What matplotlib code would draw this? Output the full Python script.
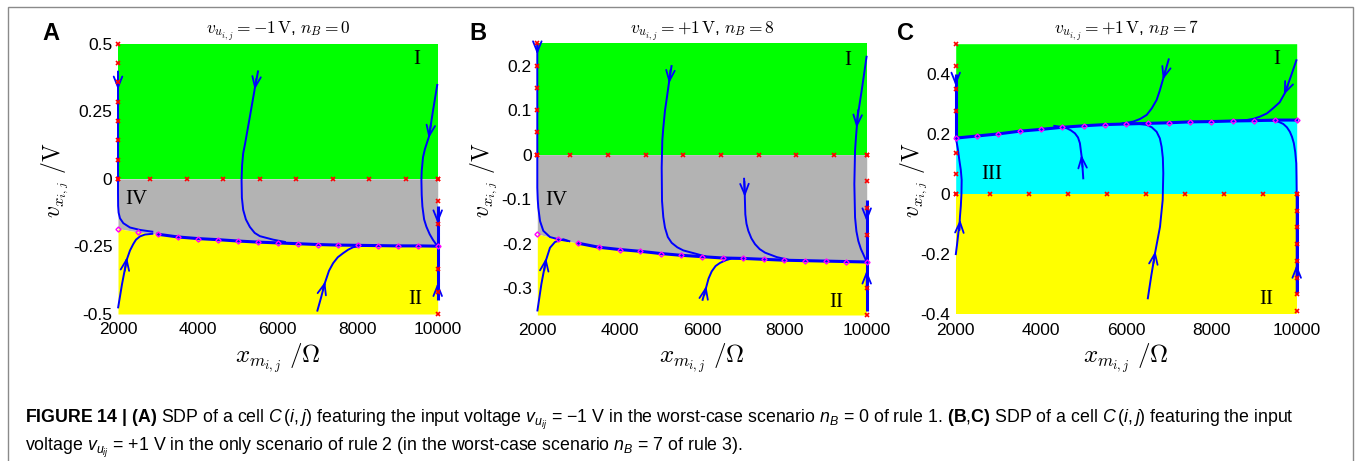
import matplotlib
matplotlib.use('Agg')
import matplotlib.pyplot as plt
from matplotlib.patches import Rectangle

plt.rcParams['font.family'] = ['Liberation Sans', 'DejaVu Sans']
plt.rcParams['mathtext.fontset'] = 'custom'
plt.rcParams['mathtext.rm'] = 'Liberation Sans'
plt.rcParams['mathtext.it'] = 'Liberation Sans:italic'
plt.rcParams['mathtext.bf'] = 'Liberation Sans:bold'

# ---------------- data ----------------
grid_x = [2000, 2500, 3000, 3500, 4000, 4500, 5000, 5500, 6000, 6500, 7000,
          7500, 8000, 8500, 9000, 9500, 10000]
zero_marks_x = [2000, 2800, 3715, 4630, 5545, 6460, 7375, 8290, 9205, 10000]

# Panel A
A_title = r"$v_{u_{i,j}} = -1\,\mathrm{V}$, $n_B = 0$"
A_ylim = [-0.5, 0.5]
A_yticks = [-0.5, -0.25, 0, 0.25, 0.5]
A_yticklabels = ['-0.5', '-0.25', '0', '0.25', '0.5']
A_bnd_y = [-0.184, -0.197, -0.205, -0.215, -0.221, -0.225, -0.230, -0.234, -0.237,
           -0.240, -0.243, -0.245, -0.246, -0.247, -0.248, -0.248, -0.249]
A_left_marks = [0.5, 0.429, 0.357, 0.286, 0.214, 0.143, 0.071, 0.0]
A_right_marks = [0.0, -0.083, -0.167, -0.333, -0.417, -0.5]
A_traj = [
    ([2000, 2000, 2000, 2003, 2015, 2050, 2133, 2300, 2550, 2883],
     [0.40, 0.10, -0.05, -0.10, -0.125, -0.146, -0.164, -0.180, -0.189, -0.196]),
    ([5508, 5425, 5300, 5180, 5133, 5105, 5092, 5100, 5133, 5200, 5300, 5420, 5550, 5883, 6200],
     [0.401, 0.336, 0.23, 0.13, 0.095, 0.05, -0.004, -0.07, -0.115, -0.150, -0.178, -0.200, -0.212, -0.225, -0.234]),
    ([9992, 9880, 9783, 9680, 9633, 9600, 9592, 9600, 9617, 9660, 9717, 9800, 9883, 9950, 10000],
     [0.351, 0.25, 0.157, 0.11, 0.08, 0.03, -0.004, -0.06, -0.102, -0.15, -0.177, -0.205, -0.226, -0.240, -0.248]),
    ([2000, 2100, 2217, 2300, 2383, 2450, 2550, 2675, 2883],
     [-0.479, -0.39, -0.30, -0.265, -0.241, -0.225, -0.213, -0.206, -0.203]),
    ([6983, 7080, 7175, 7280, 7383, 7500, 7633, 7760, 7883, 8050, 8217, 8500],
     [-0.491, -0.44, -0.386, -0.34, -0.312, -0.29, -0.275, -0.262, -0.253, -0.249, -0.247, -0.247]),
]
A_thick = [([10000, 10000], [-0.10, -0.248]), ([10000, 10000], [-0.448, -0.248])]
A_thick_from = 2
A_arrows = [(2000, 0.38, 2000, 0.33), (5460, 0.37, 5420, 0.33), (9830, 0.20, 9775, 0.15),
            (10000, -0.13, 10000, -0.165), (10000, -0.42, 10000, -0.385),
            (2170, -0.34, 2225, -0.29), (7130, -0.41, 7185, -0.38)]
A_labels = [('I', 9467, 0.441), ('IV', 2467, -0.078), ('II', 9450, -0.448)]

# Panel B
B_title = r"$v_{u_{i,j}} = +1\,\mathrm{V}$, $n_B = 8$"
B_ylim = [-0.36, 0.25]
B_yticks = [-0.3, -0.2, -0.1, 0, 0.1, 0.2]
B_yticklabels = ['-0.3', '-0.2', '-0.1', '0', '0.1', '0.2']
B_bnd_y = [-0.178, -0.190, -0.199, -0.208, -0.213, -0.217, -0.222, -0.226, -0.229,
           -0.232, -0.233, -0.235, -0.237, -0.238, -0.239, -0.240, -0.241]
B_left_marks = [0.25, 0.2, 0.15, 0.1, 0.05, 0.0]
B_right_marks = [0.0, -0.06, -0.12, -0.18, -0.30, -0.36]
B_traj = [
    ([2000, 2000, 2000, 2010, 2024, 2066, 2146, 2308, 2551, 2750],
     [0.25, 0.0, -0.074, -0.10, -0.119, -0.149, -0.171, -0.185, -0.191, -0.194]),
    ([2000, 2100, 2204, 2308, 2430, 2632, 2800],
     [-0.352, -0.29, -0.239, -0.209, -0.196, -0.190, -0.195]),
    ([5264, 5206, 5150, 5101, 5060, 5036, 5021, 5029, 5060, 5101, 5170, 5264, 5400, 5546, 5871, 6100],
     [0.201, 0.167, 0.13, 0.099, 0.06, 0.032, -0.029, -0.104, -0.14, -0.164, -0.185, -0.198, -0.208, -0.215, -0.223, -0.229]),
    ([7021, 7037, 7052, 7080, 7125, 7200, 7288, 7400, 7531, 7815, 8100],
     [-0.052, -0.085, -0.134, -0.155, -0.171, -0.188, -0.201, -0.212, -0.220, -0.230, -0.236]),
    ([6008, 6098, 6160, 6236, 6330, 6438, 6580, 6722, 7000],
     [-0.328, -0.299, -0.278, -0.262, -0.250, -0.243, -0.237, -0.233, -0.233]),
    ([10000, 9880, 9780, 9740, 9717, 9700, 9717, 9750, 9797, 9860, 9919, 10000],
     [0.222, 0.145, 0.085, 0.04, 0.009, -0.066, -0.141, -0.172, -0.194, -0.212, -0.224, -0.241]),
]
B_thick = [([10000, 10000], [-0.102, -0.241]), ([10000, 10000], [-0.352, -0.241])]
B_thick_from = 2
B_arrows = [(2000, 0.25, 2000, 0.225), (2170, -0.26, 2215, -0.232), (5235, 0.19, 5200, 0.16),
            (7030, -0.06, 7040, -0.095), (6060, -0.315, 6105, -0.295), (9790, 0.10, 9755, 0.06),
            (10000, -0.12, 10000, -0.15), (10000, -0.30, 10000, -0.26)]
B_labels = [('I', 9530, 0.212), ('IV', 2455, -0.104), ('II', 9272, -0.333)]

# Panel C
C_title = r"$v_{u_{i,j}} = +1\,\mathrm{V}$, $n_B = 7$"
C_ylim = [-0.4, 0.5]
C_yticks = [-0.4, -0.2, 0, 0.2, 0.4]
C_yticklabels = ['-0.4', '-0.2', '0', '0.2', '0.4']
C_bnd_y = [0.186, 0.193, 0.200, 0.209, 0.215, 0.222, 0.227, 0.231, 0.233, 0.235,
           0.237, 0.240, 0.241, 0.243, 0.244, 0.246, 0.246]
C_left_marks = [0.5, 0.425, 0.35, 0.275, 0.135, 0.068, 0.0]
C_right_marks = [0.0, -0.056, -0.111, -0.167, -0.222, -0.278, -0.333, -0.389]
C_traj = [
    ([2000, 2030, 2061, 2090, 2100, 2120, 2135, 2140, 2120, 2085, 2050, 2023, 2000],
     [-0.203, -0.17, -0.131, -0.10, -0.075, -0.04, 0.0, 0.047, 0.08, 0.113, 0.15, 0.172, 0.186]),
    ([4994, 4975, 4955, 4914, 4870, 4797, 4700, 4602, 4450, 4290],
     [0.049, 0.09, 0.124, 0.169, 0.188, 0.202, 0.212, 0.219, 0.224, 0.227]),
    ([6504, 6590, 6676, 6793, 6856, 6870, 6860, 6831, 6790, 6714, 6600, 6480, 6300, 6089, 5900],
     [-0.35, -0.27, -0.197, -0.109, -0.02, 0.069, 0.12, 0.157, 0.185, 0.207, 0.222, 0.230, 0.233, 0.235, 0.235]),
    ([7004, 6870, 6790, 6714, 6600, 6480, 6330, 6167, 5855],
     [0.451, 0.385, 0.345, 0.313, 0.285, 0.263, 0.25, 0.241, 0.233]),
    ([10000, 9860, 9719, 9600, 9444, 9300, 9131, 8980, 8819, 8500],
     [0.448, 0.39, 0.335, 0.305, 0.285, 0.268, 0.257, 0.25, 0.246, 0.243]),
    ([10000, 10000, 9995, 9990, 9965, 9933, 9890, 9840, 9770, 9686, 9580, 9451, 9140],
     [-0.33, 0.0, 0.06, 0.102, 0.14, 0.169, 0.19, 0.207, 0.222, 0.233, 0.240, 0.244, 0.246]),
]
C_thick = [([2000, 2000], [0.399, 0.186]), ([10000, 10000], [-0.33, 0.0])]
C_thick_from = 0
C_arrows = [(2000, 0.39, 2000, 0.36), (2090, -0.12, 2103, -0.085), (4975, 0.09, 4950, 0.13),
            (6640, -0.23, 6685, -0.19), (6920, 0.41, 6860, 0.38), (9790, 0.36, 9700, 0.33),
            (10000, -0.28, 10000, -0.235)]
C_labels = [('I', 9530, 0.446), ('III', 2845, 0.064), ('II', 9280, -0.352)]

xticks = [2000, 4000, 6000, 8000, 10000]
xticklabels = ['2000', '4000', '6000', '8000', '10000']

GREEN = '#00ff00'
GRAY = '#b3b3b3'
YELLOW = '#ffff00'
CYAN = '#00ffff'
BLUE = '#0000ff'

fig = plt.figure(figsize=(13.56, 4.61), dpi=100)
W, H = 1356.0, 461.0


def add_axes(l, r, t, b):
    return fig.add_axes([l / W, 1 - b / H, (r - l) / W, (b - t) / H])


axA = add_axes(118, 437.7, 43.7, 314)
axB = add_axes(537.3, 866.7, 43.3, 315)
axC = add_axes(955.7, 1296.7, 43.7, 314.3)

panels = [
    (axA, 'A', A_title, A_ylim, A_yticks, A_yticklabels, A_bnd_y, A_left_marks, A_right_marks,
     A_traj, A_thick, A_thick_from, A_arrows, A_labels, 51, 55),
    (axB, 'B', B_title, B_ylim, B_yticks, B_yticklabels, B_bnd_y, B_left_marks, B_right_marks,
     B_traj, B_thick, B_thick_from, B_arrows, B_labels, 478, 484),
    (axC, 'C', C_title, C_ylim, C_yticks, C_yticklabels, C_bnd_y, C_left_marks, C_right_marks,
     C_traj, C_thick, C_thick_from, C_arrows, C_labels, 906, 914),
]

for (ax, letter, title, ylim, yticks, yticklabels, bnd_y, lmarks, rmarks, trajs, thick,
     thick_from, arrows, labels, letter_x, ylab_x) in panels:
    ymin, ymax = ylim
    if letter == 'C':
        ax.fill_between(grid_x, bnd_y, ymax, color=GREEN, lw=0, zorder=0)
        ax.fill_between(grid_x, 0, bnd_y, color=CYAN, lw=0, zorder=0)
        ax.fill_between(grid_x, ymin, 0, color=YELLOW, lw=0, zorder=0)
    else:
        ax.fill_between(grid_x, 0, ymax, color=GREEN, lw=0, zorder=0)
        ax.fill_between(grid_x, bnd_y, 0, color=GRAY, lw=0, zorder=0)
        ax.fill_between(grid_x, ymin, bnd_y, color=YELLOW, lw=0, zorder=0)

    for tx, ty in trajs:
        ax.plot(tx, ty, color=BLUE, lw=1.4, zorder=3, clip_on=False, solid_capstyle='butt')
    for tx, ty in thick:
        ax.plot(tx, ty, color=BLUE, lw=2.2, zorder=3, clip_on=False, solid_capstyle='butt')
    ax.plot(grid_x[thick_from:], bnd_y[thick_from:], color=BLUE, lw=2.2, zorder=3,
            clip_on=False)
    for x0, y0, x1, y1 in arrows:
        ax.annotate('', xy=(x1, y1), xytext=(x0, y0),
                    arrowprops=dict(arrowstyle='->,head_length=0.55,head_width=0.22',
                                    color=BLUE, lw=1.3, shrinkA=0, shrinkB=0,
                                    mutation_scale=14),
                    zorder=4, annotation_clip=False)

    # markers
    ax.plot(grid_x, bnd_y, ls='none', marker='D', ms=2.6, mfc='none', mec='#ff00ff',
            mew=1.0, zorder=5, clip_on=False)
    ax.plot(zero_marks_x, [0] * len(zero_marks_x), ls='none', marker='x', ms=3, mec='#ff0000',
            mew=1.2, zorder=5, clip_on=False)
    ax.plot([2000] * len(lmarks), lmarks, ls='none', marker='x', ms=3, mec='#ff0000',
            mew=1.2, zorder=5, clip_on=False)
    ax.plot([10000] * len(rmarks), rmarks, ls='none', marker='x', ms=3, mec='#ff0000',
            mew=1.2, zorder=5, clip_on=False)

    for txt, lx, ly in labels:
        ax.text(lx, ly, txt, family='Liberation Serif', fontsize=15, ha='center',
                va='center', zorder=6)

    ax.set_xlim(2000, 10000)
    ax.set_ylim(ymin, ymax)
    ax.set_xticks(xticks)
    ax.set_xticklabels(xticklabels)
    ax.set_yticks(yticks)
    ax.set_yticklabels(yticklabels)
    ax.tick_params(axis='both', length=0, labelsize=12.5)
    ax.tick_params(axis='x', pad=6)
    ax.tick_params(axis='y', pad=4)
    for s in ax.spines.values():
        s.set_visible(False)

    bb = ax.get_position()
    cx = (bb.x0 + bb.x1) / 2
    fig.text(cx, 1 - 31 / H, title, ha='center', va='center', fontsize=12.5,
             math_fontfamily='cm')
    fig.text(cx, 1 - 358 / H, r"$x_{m_{i,j}}\ /\Omega$", ha='center', va='center',
             fontsize=18, math_fontfamily='cm')
    fig.text(ylab_x / W, 1 - 180 / H, r"$v_{x_{i,j}}\ /\mathrm{V}$", ha='center',
             va='center', rotation=90, fontsize=17, math_fontfamily='cm')
    fig.text(letter_x / W, 1 - 34 / H, letter, ha='center', va='center', fontsize=17,
             fontweight='bold')

caption1 = (r"$\mathbf{FIGURE\ 14\ |\ (A)}$ SDP of a cell $C\,(i,j)$ featuring the input voltage "
            r"$v_{u_{ij}}$ = −1 V in the worst-case scenario $n_B$ = 0 of rule 1. "
            r"$\mathbf{(B}$,$\mathbf{C)}$ SDP of a cell $C\,(i,j)$ featuring the input")
caption2 = (r"voltage $v_{u_{ij}}$ = +1 V in the only scenario of rule 2 (in the worst-case "
            r"scenario $n_B$ = 7 of rule 3).")
fig.text(25 / W, 1 - 420 / H, caption1, ha='left', va='center', fontsize=12.8)
fig.text(25 / W, 1 - 448 / H, caption2, ha='left', va='center', fontsize=12.8)

fig.add_artist(Rectangle((8 / W, -0.05), (1353 - 8) / W, (H - 7) / H + 0.05,
                         transform=fig.transFigure, fill=False, edgecolor='#8a8a8a',
                         lw=1.0, clip_on=False))

fig.savefig('out.png', dpi=100)
